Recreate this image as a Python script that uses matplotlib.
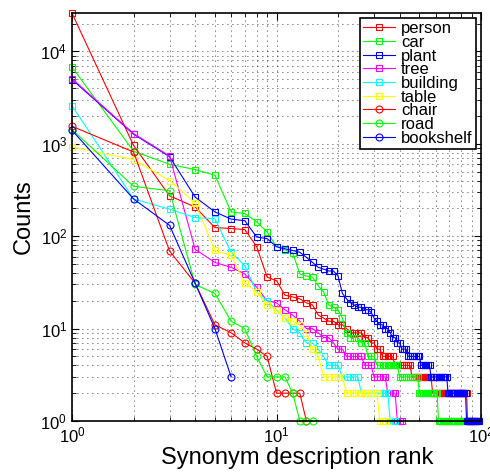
# imports
import matplotlib
matplotlib.use('Agg')
import matplotlib.pyplot as plt
from matplotlib.ticker import LogLocator, NullFormatter

plt.rcParams['font.family'] = ['Liberation Sans', 'DejaVu Sans']
plt.rcParams['mathtext.fontset'] = 'custom'
plt.rcParams['mathtext.rm'] = 'Liberation Sans'

# counts per synonym, sorted by rank (rank 1 first)
person = [25900, 960, 273, 207, 124, 121, 118, 77, 36, 33, 23, 22, 21, 19, 18, 14,
          13, 12, 12, 11, 11, 10, 9, 9, 9, 9, 8, 8, 7, 7, 6, 6,
          5, 5, 5, 5, 5,
          4, 4, 4, 4, 4, 4, 4, 4,
          3, 3, 3, 3, 3, 3, 3, 3, 3, 3, 3, 3,
          2, 2, 2, 2, 2, 2, 2, 2, 2, 2, 2, 2, 2, 2, 2, 2, 2, 2, 2, 2, 2, 2, 2, 2, 2, 2, 2, 2,
          1, 1, 1, 1, 1]
car = [6770, 830, 600, 526, 456, 183, 176, 143, 111, 77, 71, 66, 39, 37, 36, 29,
       25, 18, 17, 16, 13, 9, 8, 8, 8, 7, 7, 5, 5, 5,
       4, 4, 4, 4, 4, 4, 4, 4, 4,
       3, 3, 3, 3, 3, 3, 3, 3, 3, 3,
       2, 2, 2, 2, 2, 2, 2, 2, 2, 2, 2, 2,
       1, 1, 1, 1, 1, 1, 1, 1, 1, 1, 1, 1, 1, 1, 1, 1, 1, 1, 1, 1, 1, 1, 1]
plant = [4950, 1270, 725, 265, 183, 153, 147, 98, 94, 77, 73, 70, 67, 59, 52, 46,
         44, 42, 42, 37, 24, 21, 19, 18, 17, 17, 16, 16, 15, 13, 12, 11, 11, 10,
         10, 9, 8, 8, 7, 7, 6, 6, 6,
         5, 5, 5, 5, 5, 5, 5,
         4, 4, 4, 4, 4, 4,
         3, 3, 3, 3, 3, 3, 3, 3, 3, 3, 3, 3,
         2, 2, 2, 2, 2, 2, 2, 2, 2, 2, 2, 2, 2, 2, 2, 2,
         1, 1, 1, 1, 1, 1, 1, 1, 1, 1, 1, 1, 1, 1]
tree = [5070, 1290, 738, 72, 52, 46, 39, 28, 20, 19, 16, 14, 12, 10, 10, 9, 8, 8,
        7, 6, 6,
        5, 5, 5, 5, 5,
        4, 4, 4,
        3, 3, 3, 3, 3,
        2, 2, 2, 2,
        1, 1, 1]
building = [2590, 253, 196, 159, 154, 67, 48, 25, 20, 16, 13, 10, 9, 7, 7, 6, 5,
            4, 4, 4,
            3, 3, 3, 3, 3,
            2, 2, 2, 2, 2, 2, 2, 2, 2, 2,
            1, 1, 1]
table = [923, 675, 400, 230, 70, 62, 31, 25, 18, 16, 13, 12, 11, 9, 6, 5,
         3, 3, 3, 3, 3,
         2, 2, 2, 2, 2, 2, 2, 2, 2, 2,
         1, 1, 1, 1]
chair = [1545, 815, 69, 31, 11, 9, 7, 6, 5, 2, 2, 2, 2, 1]
road = [1425, 347, 310, 30, 24, 12, 10, 5, 3, 3, 3, 2, 1, 1, 1]
bookshelf = [1400, 253, 131, 31, 10, 3]

# MATLAB-style pure colours
red, green, blue = '#ff0000', '#00ff00', '#0000ff'
magenta, cyan, yellow = '#ff00ff', '#00ffff', '#ffff00'

series = [('person', person, red, 's'), ('car', car, green, 's'),
          ('plant', plant, blue, 's'), ('tree', tree, magenta, 's'),
          ('building', building, cyan, 's'), ('table', table, yellow, 's'),
          ('chair', chair, red, 'o'), ('road', road, green, 'o'),
          ('bookshelf', bookshelf, blue, 'o')]

fig = plt.figure(figsize=(4.9, 4.74), dpi=100)
ax = fig.add_axes([72/490, 53/474, 409/490, 408/474])

for name, counts, col, mk in series:
    rank = range(1, len(counts) + 1)
    ax.loglog(rank, counts, color=col, marker=mk, markersize=5,
              markerfacecolor='none', markeredgewidth=0.8, linewidth=0.8,
              label=name, clip_on=False)

ax.set_xlim(1, 100)
ax.set_ylim(1, 26000)

ax.xaxis.set_major_locator(LogLocator(base=10, numticks=10))
ax.yaxis.set_major_locator(LogLocator(base=10, numticks=10))
ax.xaxis.set_minor_locator(LogLocator(base=10, subs=range(2, 10), numticks=20))
ax.yaxis.set_minor_locator(LogLocator(base=10, subs=range(2, 10), numticks=20))
ax.xaxis.set_minor_formatter(NullFormatter())
ax.yaxis.set_minor_formatter(NullFormatter())

ax.grid(True, which='both', color='k', linestyle=(0, (1, 5)), linewidth=0.6)
ax.tick_params(which='both', direction='in', top=True, right=True, labelsize=12)
ax.tick_params(which='major', length=5)
ax.tick_params(which='minor', length=3)
for s in ax.spines.values():
    s.set_linewidth(1.2)

ax.set_xlabel('Synonym description rank', fontsize=17, labelpad=1)
ax.xaxis.label.set_x(0.55)
ax.set_ylabel('Counts', fontsize=17, labelpad=4)

leg = ax.legend(loc='upper right', fontsize=12, labelspacing=-0.08,
                handlelength=1.9, handletextpad=0.4, borderpad=0.2,
                borderaxespad=0.3, fancybox=False, framealpha=1)
leg.get_frame().set_edgecolor('k')
leg.get_frame().set_linewidth(1.2)

plt.savefig('out.png', dpi=100)
